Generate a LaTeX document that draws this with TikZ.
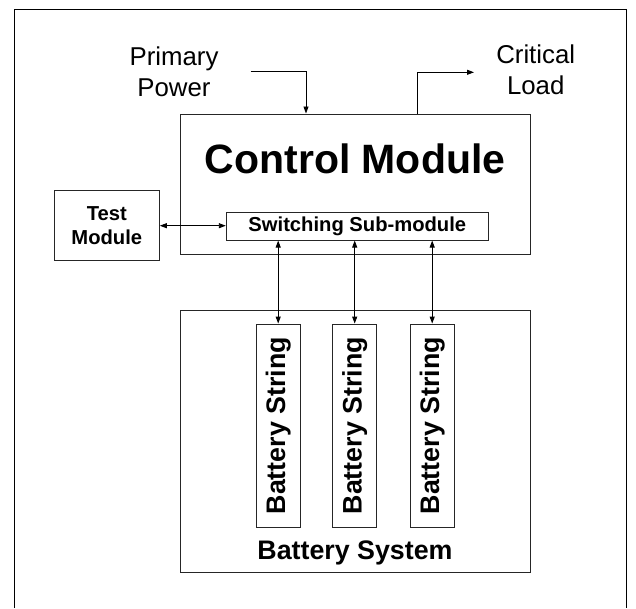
\documentclass[tikz,border=0pt]{standalone}
\usepackage{fontspec}
\setmainfont{Liberation Sans}
\usepackage{graphicx}
\usetikzlibrary{arrows.meta, positioning, calc}
\tikzset{
  box/.style={rectangle, draw=black!85, line width=1pt, fill=white, align=center, inner sep=0pt},
  title/.style={inner sep=0pt, align=center, font=\bfseries},
  extlab/.style={inner sep=0pt, align=center, font=\fontsize{25.8}{31}\selectfont},
  flow/.style={-{Triangle[length=7pt,width=5pt]}, line width=0.9pt},
  dflow/.style={{Triangle[length=7pt,width=5pt]}-{Triangle[length=7pt,width=5pt]}, line width=0.9pt},
}

\begin{document}
\begin{tikzpicture}[x=1pt, y=-1pt]
  \useasboundingbox (0,0) rectangle (636,608);
  % outer frame
  \draw[line width=1pt] (14.3,608) -- (14.3,9.3) -- (626.7,9.3) -- (626.7,608);

  \node[box, minimum width=350pt, minimum height=140pt] (ctrl) at (355,184) {};
  \node[title, font=\bfseries\fontsize{41}{46}\selectfont, anchor=base] (ctrltitle) at (355,173) {Control Module};
  \node[box, font=\bfseries\fontsize{20.2}{24}\selectfont, minimum width=262pt, minimum height=27.7pt] (sw) at (357.3,226.2) {Switching Sub-module};
  \node[box, font=\bfseries\fontsize{20.2}{24}\selectfont, minimum width=105pt, minimum height=70pt] (test) at (106.8,225.7) {Test\\Module};

  \node[box, minimum width=349.7pt, minimum height=262.7pt] (bsys) at (355.2,441.4) {};
  \node[title, font=\bfseries\fontsize{26.8}{31}\selectfont, anchor=base] (bsystitle) at (355,559) {Battery System};
  \node[box, font=\bfseries\fontsize{26.8}{31}\selectfont, minimum width=43.7pt, minimum height=203.3pt] (bs1) at (278.2,425.7) {\rotatebox{90}{Battery String}};
  \node[box, font=\bfseries\fontsize{26.8}{31}\selectfont, minimum width=43.7pt, minimum height=203.3pt] (bs2) at (354.7,425.7) {\rotatebox{90}{Battery String}};
  \node[box, font=\bfseries\fontsize{26.8}{31}\selectfont, minimum width=43.7pt, minimum height=203.3pt] (bs3) at (432.2,425.7) {\rotatebox{90}{Battery String}};

  \node[extlab, anchor=north] (prim) at (174,46.5) {Primary\\Power};
  \node[extlab, anchor=north] (load) at (535.7,45) {Critical\\Load};

  \coordinate (ppsrc) at (250.7,71.7);
  \coordinate (ppin) at ($(ctrl.north west)+(126.5,0)$);
  \coordinate (clout) at ($(ctrl.north west)+(238.3,0)$);
  \coordinate (cldst) at (474,72.3);

  \draw[flow] (ppsrc) -| (ppin);
  \draw[flow] (clout) |- (cldst);
  \draw[dflow] (test.east) -- (test.east -| sw.west);
  \draw[dflow] (sw.south -| bs1) -- (bs1.north);
  \draw[dflow] (sw.south -| bs2) -- (bs2.north);
  \draw[dflow] (sw.south -| bs3) -- (bs3.north);
\end{tikzpicture}
\end{document}
